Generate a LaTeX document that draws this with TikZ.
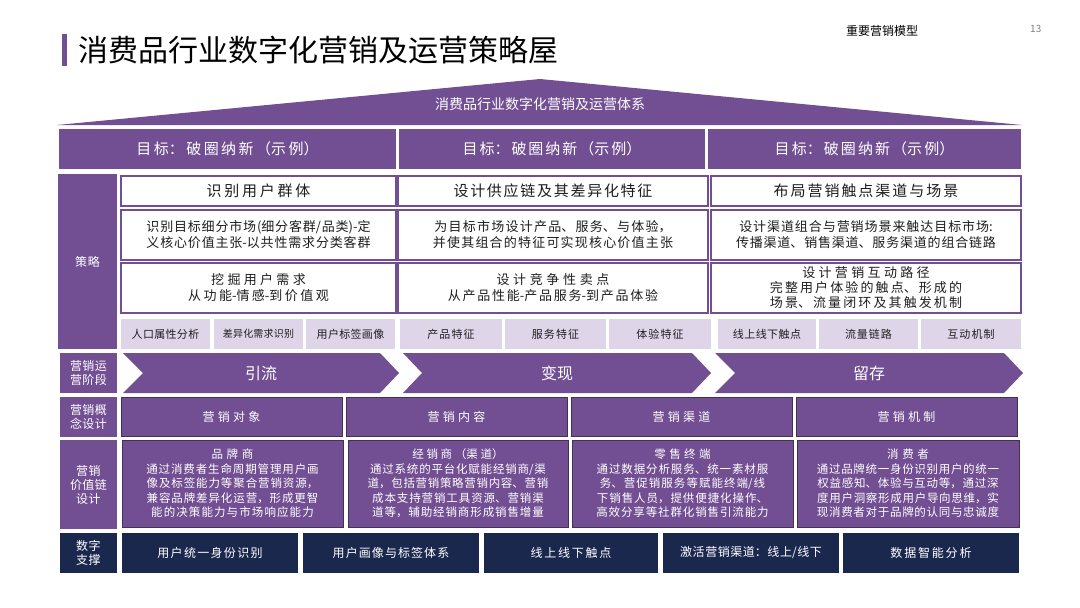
\documentclass[tikz,border=0pt]{standalone}
\usepackage{fontspec}
\setmainfont{Noto Sans CJK SC}
\XeTeXlinebreaklocale "zh"
\XeTeXlinebreakskip=0pt plus 1pt
\definecolor{pur}{RGB}{114,78,146}
\definecolor{lav}{RGB}{222,214,232}
\definecolor{navy}{RGB}{27,40,78}
\definecolor{ink}{RGB}{30,30,30}
\newcommand\bx[7]{\node[#6, minimum width={#4-#2}, minimum height={#5-#3}, text width={#4-#2-8}] (#1) at ({(#2+#4)/2},{(#3+#5)/2}) {#7};}
\tikzset{
 base/.style={inner sep=0pt, outer sep=0pt, align=center, font=\fontsize{12}{14}\selectfont},
 pbox/.style={base, fill=pur, text=white},
 wbox/.style={base, fill=white, draw=pur, line width=1.2pt, text=ink},
 tbox/.style={base, fill=lav, text=ink, font=\fontsize{11}{13}\selectfont},
 nbox/.style={base, fill=navy, text=white},
 cbox/.style={pbox, draw=pur!60!black, line width=0.6pt},
 vbox/.style={cbox, font=\fontsize{11.5}{14.5}\selectfont},
}
\begin{document}
\begin{tikzpicture}[x=1pt,y=-1pt]
\useasboundingbox (0,0) rectangle (1080,608);
\fill[white] (0,0) rectangle (1080,608);
% title
\fill[pur] (62,34) rectangle (67,66);
\node[anchor=west, inner sep=0, font=\fontsize{30}{33}\selectfont, text=black] (title) at (78,50) {消费品行业数字化营销及运营策略屋};
\node[anchor=west, inner sep=0, font=\fontsize{12}{14}\selectfont] (tag) at (846,31) {重要营销模型};
\node[anchor=west, inner sep=0, font=\fontsize{10}{12}\selectfont, text=gray] (pg) at (1030,29) {13};
% roof
\fill[pur] (57,125) -- (540,79) -- (1022,125) -- cycle;
\node[inner sep=0, text=white, font=\fontsize{14}{16}\selectfont] (roof) at (540,104) {消费品行业数字化营销及运营体系};
% goals
\bx{g1}{59}{129}{396}{169}{pbox, font=\fontsize{15}{17}\selectfont}{目标：破圈纳新（示例）}
\bx{g2}{399}{129}{705}{169}{pbox, font=\fontsize{15}{17}\selectfont}{目标：破圈纳新（示例）}
\bx{g3}{708}{129}{1021}{169}{pbox, font=\fontsize{15}{17}\selectfont}{目标：破圈纳新（示例）}
% strategy
\bx{cl}{58}{174}{117}{349}{pbox}{策略}
\bx{s11}{121}{176}{396}{206}{wbox, font=\fontsize{15}{17}\selectfont}{识别用户群体}
\bx{s12}{398}{176}{708}{206}{wbox, font=\fontsize{15}{17}\selectfont}{设计供应链及其差异化特征}
\bx{s13}{711}{176}{1021}{206}{wbox, font=\fontsize{15}{17}\selectfont}{布局营销触点渠道与场景}
\bx{s21}{121}{210}{396}{260}{wbox, font=\fontsize{13}{16}\selectfont}{识别目标细分市场(细分客群/品类)-定义核心价值主张-以共性需求分类客群}
\bx{s22}{398}{210}{708}{260}{wbox, font=\fontsize{13}{16}\selectfont}{为目标市场设计产品、服务、与体验，并使其组合的特征可实现核心价值主张}
\bx{s23}{711}{210}{1021}{260}{wbox, font=\fontsize{13}{16}\selectfont}{设计渠道组合与营销场景来触达目标市场:传播渠道、销售渠道、服务渠道的组合链路}
\bx{s31}{121}{263}{396}{313}{wbox, font=\fontsize{13}{16}\selectfont}{挖掘用户需求\\从功能-情感-到价值观}
\bx{s32}{398}{263}{708}{313}{wbox, font=\fontsize{13}{16}\selectfont}{设计竞争性卖点\\从产品性能-产品服务-到产品体验}
\bx{s33}{711}{263}{1021}{313}{wbox, font=\fontsize{13}{15}\selectfont}{设计营销互动路径\\完整用户体验的触点、形成的场景、流量闭环及其触发机制}
\bx{t1}{121}{319}{210}{349}{tbox}{人口属性分析}
\bx{t2}{214}{319}{303}{349}{tbox, font=\fontsize{10}{12}\selectfont}{差异化需求识别}
\bx{t3}{306}{319}{395}{349}{tbox}{用户标签画像}
\bx{t4}{400}{319}{502}{349}{tbox}{产品特征}
\bx{t5}{505}{319}{606}{349}{tbox}{服务特征}
\bx{t6}{609}{319}{711}{349}{tbox}{体验特征}
\bx{t7}{718}{319}{816}{349}{tbox}{线上线下触点}
\bx{t8}{819}{319}{918}{349}{tbox}{流量链路}
\bx{t9}{921}{319}{1021}{349}{tbox}{互动机制}
% stages
\bx{l2}{60}{353}{117}{393}{pbox}{营销运\\营阶段}
\fill[pur] (123,353) -- (380,353) -- (399,373) -- (380,393) -- (123,393) -- (143,373) -- cycle;
\fill[pur] (403,353) -- (692,353) -- (711,373) -- (692,393) -- (403,393) -- (422,373) -- cycle;
\fill[pur] (715,353) -- (1004,353) -- (1023,373) -- (1004,393) -- (715,393) -- (735,373) -- cycle;
\node[inner sep=0, text=white, font=\fontsize{16}{18}\selectfont] (st1) at (261,373) {引流};
\node[inner sep=0, text=white, font=\fontsize{16}{18}\selectfont] (st2) at (557,373) {变现};
\node[inner sep=0, text=white, font=\fontsize{16}{18}\selectfont] (st3) at (869,373) {留存};
% concept
\bx{l3}{60}{397}{117}{437}{pbox}{营销概\\念设计}
\bx{c1}{121}{397}{342}{436}{cbox}{营销对象}
\bx{c2}{346}{397}{567}{436}{cbox}{营销内容}
\bx{c3}{571}{397}{792}{436}{cbox}{营销渠道}
\bx{c4}{796}{397}{1017}{436}{cbox}{营销机制}
% value chain
\bx{l4}{60}{440}{117}{529}{pbox}{营销\\价值链\\设计}
\bx{v1}{122}{440}{343}{527}{vbox}{品牌商\\通过消费者生命周期管理用户画像及标签能力等聚合营销资源，兼容品牌差异化运营，形成更智能的决策能力与市场响应能力}
\bx{v2}{348}{440}{568}{527}{vbox}{经销商（渠道）\\通过系统的平台化赋能经销商/渠道，包括营销策略营销内容、营销成本支持营销工具资源、营销渠道等，辅助经销商形成销售增量}
\bx{v3}{572}{440}{793}{527}{vbox}{零售终端\\通过数据分析服务、统一素材服务、营促销服务等赋能终端/线下销售人员，提供便捷化操作、高效分享等社群化销售引流能力}
\bx{v4}{797}{440}{1019}{527}{vbox}{消费者\\通过品牌统一身份识别用户的统一权益感知、体验与互动等，通过深度用户洞察形成用户导向思维，实现消费者对于品牌的认同与忠诚度}
% digital
\bx{l5}{60}{533}{117}{573}{nbox}{数字\\支撑}
\bx{d1}{122}{533}{298}{573}{nbox}{用户统一身份识别}
\bx{d2}{303}{533}{479}{573}{nbox}{用户画像与标签体系}
\bx{d3}{484}{533}{658}{573}{nbox}{线上线下触点}
\bx{d4}{663}{533}{839}{573}{nbox}{激活营销渠道：线上/线下}
\bx{d5}{843}{533}{1019}{573}{nbox}{数据智能分析}
\end{tikzpicture}
\end{document}
